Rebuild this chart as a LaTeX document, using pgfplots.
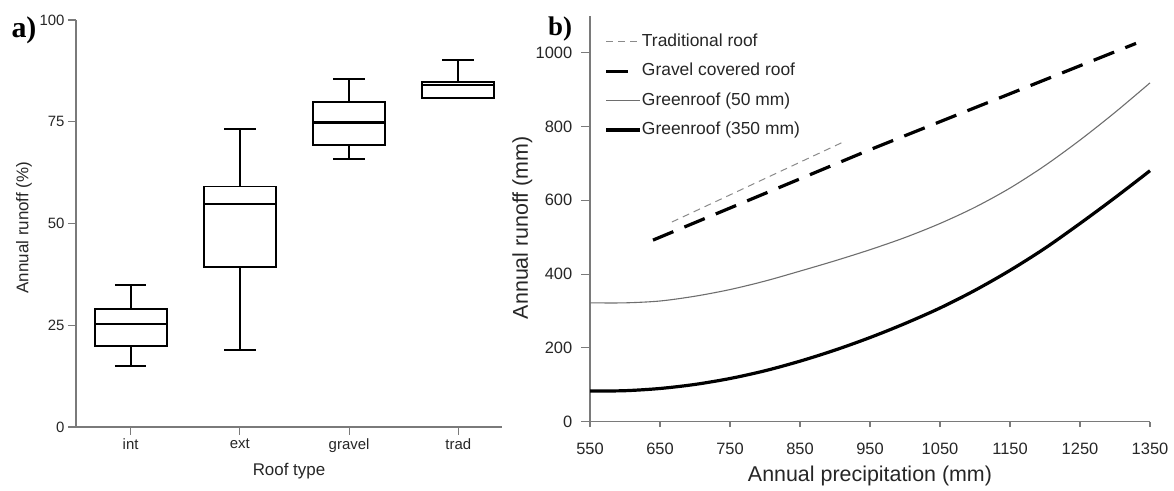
\documentclass[border=0pt]{standalone}
\usepackage{fontspec}
\setmainfont{Liberation Sans}
\newfontfamily\panelfont{Liberation Serif}
\usepackage{pgfplots}
\usepackage{pgfplotstable}
\pgfplotsset{compat=1.18}
\usepgfplotslibrary{statistics}

\definecolor{axisgray}{HTML}{7A7A7A}
\definecolor{thingray}{HTML}{6E6E6E}
\definecolor{dashgray}{HTML}{8A8A8A}

% runoff vs. annual precipitation (mm)
\pgfplotstableread{
P     R
667   541
912   758
}\traditional
\pgfplotstableread{
P     R
640   492
950   737
1330  1025
}\gravel
\pgfplotstableread{
P     R
550   322
600   322
650   327
700   340
750   358
800   381
850   408
900   436
950   466
1000  499
1050  537
1100  581
1150  633
1200  694
1250  763
1300  838
1350  918
}\greenthin
\pgfplotstableread{
P     R
550   83
600   84
650   90
700   101
750   117
800   138
850   164
900   194
950   228
1000  266
1050  308
1100  356
1150  410
1200  470
1250  537
1300  607
1350  680
}\greenthick

\pgfplotsset{
  panel/.style={
    scale only axis,
    axis lines=left,
    axis line style={-, draw=axisgray, line width=1.3bp},
    tick align=outside,
    tick style={draw=axisgray, line width=1.1bp},
    /pgf/number format/assume math mode=true,
    /pgf/number format/set thousands separator={},
    clip=false,
  },
}

\begin{document}
\begin{tikzpicture}
\useasboundingbox (0,0) rectangle (1174bp,491bp);

% (a) annual runoff share by roof type
\begin{axis}[panel,
  at={(76bp,64bp)}, anchor=south west,
  width=426bp, height=407bp,
  xmin=0.5, xmax=4.4, ymin=0, ymax=100,
  xtick={1,2,3,4}, xticklabels={int,ext,gravel,trad},
  ytick={0,25,50,75,100},
  major tick length=8bp,
  tick label style={font=\fontsize{15}{18}\selectfont, text=black!85},
  xlabel={Roof type}, ylabel={Annual runoff (\%)},
  label style={font=\fontsize{17}{20}\selectfont, text=black!85},
  xlabel style={at={(axis description cs:0.5,-0.108)}, anchor=center},
  ylabel style={at={(axis description cs:-0.122,0.49)}, anchor=center},
  boxplot/draw direction=y,
  boxplot/box extend=0.66, boxplot/whisker extend=0.29,
  boxplot/every box/.style={line width=1.9bp},
  boxplot/every whisker/.style={line width=2bp},
  boxplot/every median/.style={line width=1.8bp},
]
\addplot[black, line width=2bp, boxplot prepared={draw position=1,
  lower whisker=14.9, lower quartile=19.9, median=25.4,
  upper quartile=28.9, upper whisker=34.8}] coordinates {};
\addplot[black, line width=2bp, boxplot prepared={draw position=2,
  lower whisker=18.8, lower quartile=39.4, median=54.7,
  upper quartile=59.1, upper whisker=73.1}] coordinates {};
\addplot[black, line width=2bp, boxplot/every median/.style={line width=2.6bp},
  boxplot prepared={draw position=3,
  lower whisker=65.8, lower quartile=69.3, median=74.8,
  upper quartile=79.9, upper whisker=85.6}] coordinates {};
\addplot[black, line width=2bp, boxplot prepared={draw position=4,
  lower whisker=80.8, lower quartile=80.8, median=84.1,
  upper quartile=84.8, upper whisker=90.2}] coordinates {};
\end{axis}

% (b) annual runoff vs. annual precipitation
\begin{axis}[panel,
  at={(590bp,69.3bp)}, anchor=south west,
  width=560bp, height=406bp,
  xmin=550, xmax=1350, ymin=0, ymax=1100,
  xtick={550,650,...,1350}, ytick={0,200,...,1000},
  xtick style={/pgfplots/major tick length=5bp},
  ytick style={/pgfplots/major tick length=9bp},
  tick label style={font=\fontsize{16.5}{20}\selectfont, text=black!85},
  xticklabel style={yshift=-14bp},
  yticklabel style={xshift=-10bp},
  xlabel={Annual precipitation (mm)}, ylabel={Annual runoff (mm)},
  label style={font=\fontsize{21.5}{24}\selectfont, text=black!85},
  xlabel style={at={(axis description cs:0.5,-0.134)}, anchor=center},
  ylabel style={at={(axis description cs:-0.121,0.478)}, anchor=center},
  legend image code/.code={\draw[#1] (0bp,0bp) -- (34bp,0bp);},
  legend cell align=left,
  legend style={draw=none, fill=none, at={(axis description cs:0.026,0.957)},
    anchor=north west, row sep=12.4bp, inner sep=0pt,
    font=\fontsize{17.5}{20}\selectfont,
    nodes={inner sep=0pt, text height=13bp, text depth=4bp, text=black!85}},
]
\addplot[dashgray, line width=1bp, dash pattern=on 7bp off 5bp]
  table[x=P, y=R] {\traditional};
\addlegendentry{Traditional roof}
\addplot[black, line width=3.2bp, dash pattern=on 22bp off 12bp]
  table[x=P, y=R] {\gravel};
\addlegendentry{Gravel covered roof}
\addplot[thingray, line width=1.1bp, smooth]
  table[x=P, y=R] {\greenthin};
\addlegendentry{Greenroof (50 mm)}
\addplot[black, line width=3.2bp, smooth]
  table[x=P, y=R] {\greenthick};
\addlegendentry{Greenroof (350 mm)}
\end{axis}

\node at (24bp,461bp) {\fontsize{30}{32}\selectfont\panelfont\bfseries a)};
\node at (560bp,462bp) {\fontsize{27}{30}\selectfont\panelfont\bfseries b)};
\end{tikzpicture}
\end{document}
